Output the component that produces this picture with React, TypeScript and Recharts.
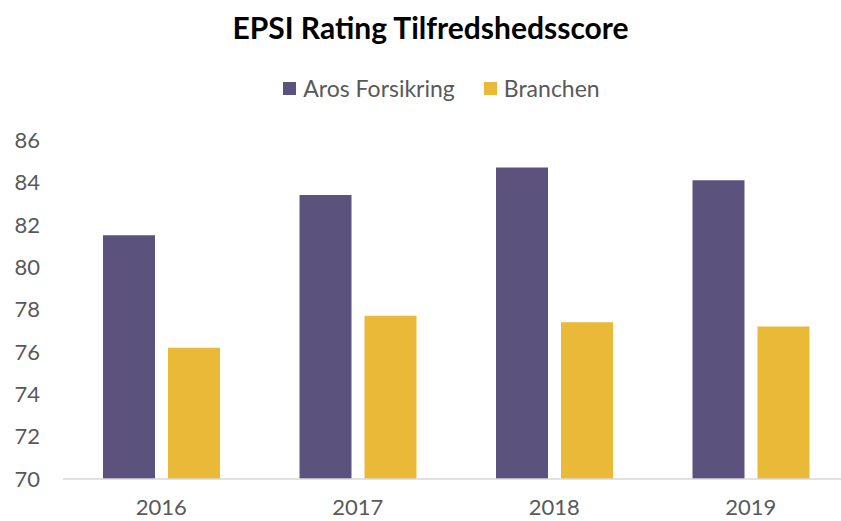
import React from "react";
import { BarChart, Bar, XAxis, YAxis, Legend } from "recharts";

const years = ["2016", "2017", "2018", "2019"];
const arosValues = [81.5, 83.4, 84.7, 84.1];
const branchenValues = [76.2, 77.7, 77.4, 77.2];
const yTicks = [70, 72, 74, 76, 78, 80, 82, 84, 86];
const seriesNames = ["Aros Forsikring", "Branchen"];
const seriesColors = ["#5B527D", "#E9B937"];

const data = years.map((y, i) => ({ year: y, aros: arosValues[i], branchen: branchenValues[i] }));

const FONT = "Lato, 'Open Sans', sans-serif";
const TEXT = "#595959";

const LegendContent = () => (
  <div style={{ display: "flex", justifyContent: "center", alignItems: "center", height: 30, fontFamily: FONT, fontSize: 23, color: TEXT }}>
    {seriesNames.map((n, i) => (
      <div key={n} style={{ display: "flex", alignItems: "center", marginLeft: i === 0 ? 0 : 29 }}>
        <div style={{ width: 13, height: 13, background: seriesColors[i], marginRight: 7 }} />
        <span>{n}</span>
      </div>
    ))}
  </div>
);

export default function App() {
  return (
    <div style={{ position: "absolute", left: 0, top: 0, width: 841, height: 521, overflow: "hidden", background: "#fff" }}>
      <div style={{ position: "absolute", left: 0, top: 9, width: 861, textAlign: "center", fontFamily: FONT, fontWeight: 700, fontSize: 30, color: "#000" }}>
        EPSI Rating Tilfredshedsscore
      </div>
      <BarChart
        width={849}
        height={521}
        data={data}
        margin={{ top: 110, right: 0, bottom: 12, left: 0 }}
        barGap={13}
        barSize={52}
      >
        <Legend
          verticalAlign="top"
          height={30}
          wrapperStyle={{ top: 73, left: 0, width: 883 }}
          content={<LegendContent />}
        />
        <XAxis
          dataKey="year"
          tickLine={false}
          axisLine={{ stroke: "#D9D9D9", strokeWidth: 1.5 }}
          tick={{ fill: TEXT, fontSize: 22, fontFamily: FONT }}
          tickMargin={14}
          height={30}
        />
        <YAxis
          domain={[70, 86]}
          ticks={yTicks}
          width={63}
          axisLine={false}
          tickLine={false}
          tickSize={0}
          tickMargin={23}
          tick={{ fill: TEXT, fontSize: 22, fontFamily: FONT }}
          allowDataOverflow
        />
        <Bar dataKey="aros" name={seriesNames[0]} fill={seriesColors[0]} isAnimationActive={false} />
        <Bar dataKey="branchen" name={seriesNames[1]} fill={seriesColors[1]} isAnimationActive={false} />
      </BarChart>
    </div>
  );
}
